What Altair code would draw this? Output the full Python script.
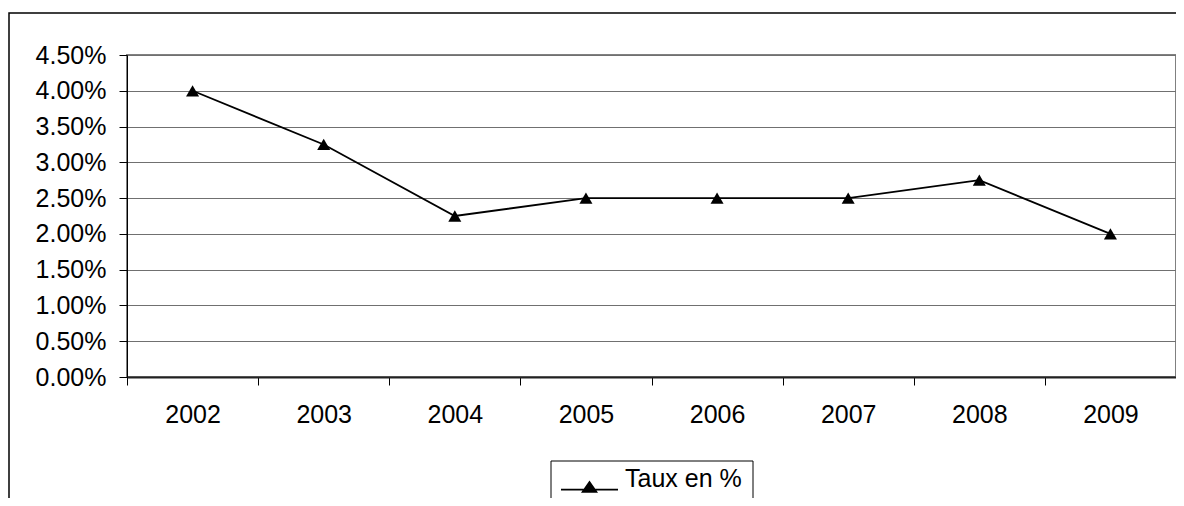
import altair as alt
import pandas as pd

# ---- data ----
years = ["2002", "2003", "2004", "2005", "2006", "2007", "2008", "2009"]
rates = [0.0400, 0.0325, 0.0225, 0.0250, 0.0250, 0.0250, 0.0275, 0.0200]
series_name = "Taux en %"
y_tick_values = [0.0, 0.005, 0.01, 0.015, 0.02, 0.025, 0.03, 0.035, 0.04, 0.045]

df = pd.DataFrame({"year": years, "rate": rates, "series": [series_name] * len(years)})

FONT = "Liberation Sans"
W, H = 1049, 322

x_enc = alt.X(
    "year:O",
    scale=alt.Scale(type="band", paddingInner=0, paddingOuter=0),
    axis=alt.Axis(
        title=None, labelAngle=0, tickBand="extent", tickSize=8, tickColor="black",
        domainColor="#222222", domainWidth=2, labelPadding=17, labelFontSize=25,
        labelFont=FONT, labelColor="black", grid=False,
    ),
)
y_enc = alt.Y(
    "rate:Q",
    scale=alt.Scale(domain=[0, 0.045], nice=False, zero=True),
    axis=alt.Axis(
        title=None, values=y_tick_values, format=".2%", tickSize=8, tickColor="black",
        domainColor="black", domainWidth=1, labelPadding=13, labelFontSize=25,
        labelFont=FONT, labelColor="black", grid=True, gridColor="#707070", gridWidth=1,
    ),
)

legend_symbol = "M-1,0.39H1M-0.245,0.47L0,0.12L0.245,0.47Z"

color_enc = alt.Color(
    "series:N",
    scale=alt.Scale(range=["black"]),
    legend=alt.Legend(
        title=None, orient="none", legendX=433, legendY=394, padding=0,
        symbolType=legend_symbol, symbolSize=3249, symbolStrokeWidth=1.6,
        symbolFillColor="black", symbolStrokeColor="black",
        labelFont=FONT, labelFontSize=25, labelColor="black", labelOffset=6,
    ),
)

one = pd.DataFrame({"k": [0]})

frame = alt.Chart(one).mark_rect(fillOpacity=0, stroke="black", strokeWidth=1.5).encode(
    x=alt.value(-118), x2=alt.value(1070), y=alt.value(-42), y2=alt.value(480)
)
legend_box = alt.Chart(one).mark_rect(fillOpacity=0, stroke="black", strokeWidth=1).encode(
    x=alt.value(424), x2=alt.value(626), y=alt.value(406), y2=alt.value(480)
)

line = alt.Chart(df).mark_line(strokeWidth=1.8).encode(x=x_enc, y=y_enc, color=color_enc)
points = alt.Chart(df).mark_point(shape="triangle-up", filled=True, size=170, opacity=1).encode(
    x=x_enc, y=y_enc, color=color_enc
)

chart = (
    alt.layer(frame, line, points, legend_box)
    .properties(
        width=W, height=H,
        autosize=alt.AutoSizeParams(type="none"),
        padding={"left": 119, "top": 47, "right": 0, "bottom": 121},
        background="white",
    )
    .configure_view(stroke="#808080", strokeWidth=2)
)

chart.save("out.html", embed_options={"renderer": "svg", "actions": False})
